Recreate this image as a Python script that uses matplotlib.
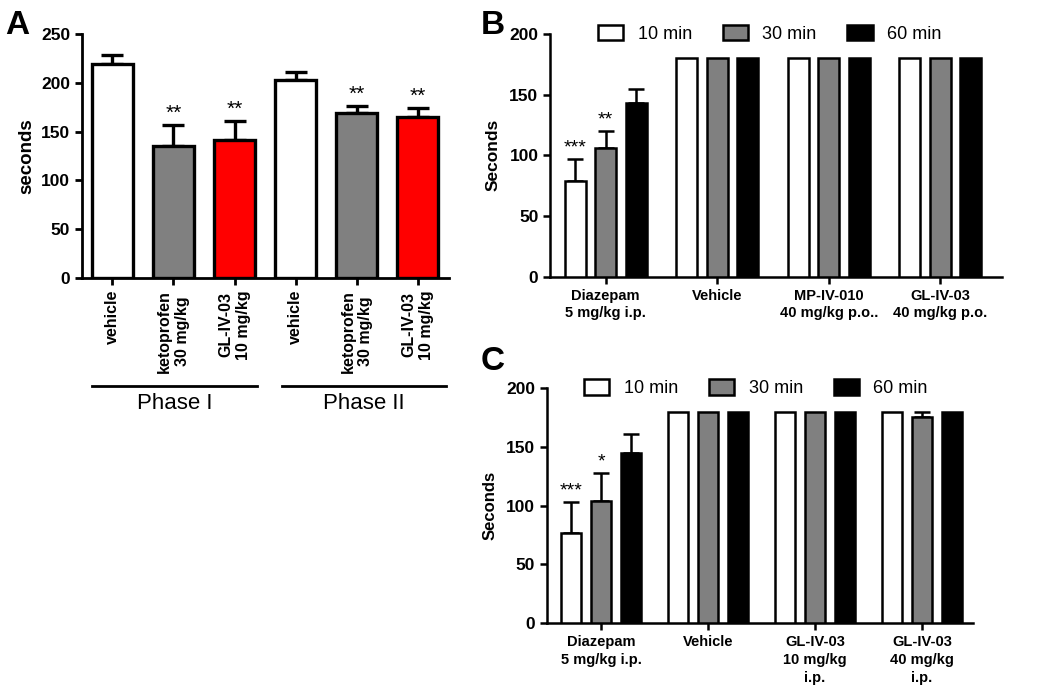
import matplotlib
matplotlib.use("Agg")
import matplotlib.pyplot as plt
import matplotlib.transforms as mtransforms
from matplotlib.patches import Patch
import numpy as np

plt.rcParams['font.family'] = ['Liberation Sans', 'DejaVu Sans']

# ---------------- data ----------------
# Panel A
a_labels = ["vehicle", "ketoprofen\n30 mg/kg", "GL-IV-03\n10 mg/kg",
            "vehicle", "ketoprofen\n30 mg/kg", "GL-IV-03\n10 mg/kg"]
a_values = [219, 135, 141, 203, 169, 165]
a_errors = [9, 22, 20, 8, 7, 9]
a_stars = ["", "**", "**", "", "**", "**"]
a_colors = ["white", "#808080", "#ff0000", "white", "#808080", "#ff0000"]
a_phases = ["Phase I", "Phase II"]

# Panel B
b_groups = ["Diazepam\n5 mg/kg i.p.", "Vehicle", "MP-IV-010\n40 mg/kg p.o..", "GL-IV-03\n40 mg/kg p.o."]
b_10 = [79, 180, 180, 180]
b_30 = [106, 180, 180, 180]
b_60 = [143, 180, 180, 180]
b_err10 = [18, 0, 0, 0]
b_err30 = [14, 0, 0, 0]
b_err60 = [12, 0, 0, 0]
b_star10 = ["***", "", "", ""]
b_star30 = ["**", "", "", ""]

# Panel C
c_groups = ["Diazepam\n5 mg/kg i.p.", "Vehicle", "GL-IV-03\n10 mg/kg\ni.p.", "GL-IV-03\n40 mg/kg\ni.p."]
c_10 = [77, 180, 180, 180]
c_30 = [104, 180, 180, 176]
c_60 = [145, 180, 180, 180]
c_err10 = [26, 0, 0, 0]
c_err30 = [24, 0, 0, 4]
c_err60 = [16, 0, 0, 0]
c_star10 = ["***", "", "", ""]
c_star30 = ["*", "", "", ""]

series_names = ["10 min", "30 min", "60 min"]
series_colors = ["white", "#808080", "black"]

fig = plt.figure(figsize=(10.5, 6.92), dpi=100)


def style_axis(ax, lw):
    ax.spines['top'].set_visible(False)
    ax.spines['right'].set_visible(False)
    ax.spines['left'].set_linewidth(lw)
    ax.spines['bottom'].set_linewidth(lw)
    ax.tick_params(axis='both', direction='out', width=lw, length=5)
    for t in ax.get_yticklabels():
        t.set_fontweight('bold')


# ---------------- Panel A ----------------
axA = fig.add_axes([0.078, 0.598, 0.350, 0.353])
xA = np.arange(len(a_values))
axA.bar(xA, a_values, width=0.67, color=a_colors, edgecolor='black', linewidth=2.4, zorder=3)
axA.errorbar(xA, a_values, yerr=[np.zeros(len(a_errors)), a_errors], fmt='none',
             ecolor='black', elinewidth=2.4, capsize=8, capthick=2.4, zorder=2)
for xi, v, e, s in zip(xA, a_values, a_errors, a_stars):
    if s:
        axA.text(xi, v + e + 2, s, ha='center', va='bottom', fontsize=15)
axA.set_xlim(-0.5, 5.52)
axA.set_ylim(0, 250)
axA.set_yticks([0, 50, 100, 150, 200, 250])
axA.set_xticks(xA)
axA.set_xticklabels(a_labels, rotation=90, fontsize=11.5, fontweight='bold',
                    va='top', ha='center', multialignment='center')
axA.set_ylabel("seconds", fontsize=13.5, fontweight='bold', labelpad=4)
axA.tick_params(axis='y', labelsize=12.5)
style_axis(axA, 2.0)
trA = mtransforms.blended_transform_factory(axA.transData, axA.transAxes)
phase_spans = [(-0.34, 2.37), (2.78, 5.47)]
for (x0, x1), name in zip(phase_spans, a_phases):
    axA.plot([x0, x1], [-0.443, -0.443], transform=trA, color='black', lw=2.0, clip_on=False)
    axA.text((x0 + x1) / 2, -0.468, name, transform=trA, ha='center', va='top', fontsize=16)
fig.text(0.005, 0.985, "A", fontsize=24, fontweight='bold', va='top', ha='left')


def grouped(ax, groups, vals, errs, stars, spacing, width, xlim, lw, capsize, legx):
    xg = np.arange(len(groups))
    offs = [-spacing, 0, spacing]
    for i, (v, e, c, nm) in enumerate(zip(vals, errs, series_colors, series_names)):
        xs = xg + offs[i]
        ax.bar(xs, v, width=width, color=c, edgecolor='black', linewidth=lw, zorder=3, label=nm)
        e = np.array(e)
        m = e > 0
        if m.any():
            ax.errorbar(xs[m], np.array(v)[m], yerr=[np.zeros(m.sum()), e[m]], fmt='none',
                        ecolor='black', elinewidth=lw, capsize=capsize, capthick=lw, zorder=2)
        for xi, vi, ei, s in zip(xs, v, e, stars[i]):
            if s:
                ax.text(xi, vi + ei + 2, s, ha='center', va='bottom', fontsize=14)
    ax.set_xlim(*xlim)
    ax.set_ylim(0, 200)
    ax.set_yticks([0, 50, 100, 150, 200])
    ax.set_xticks(xg)
    ax.set_xticklabels(groups, fontsize=10.5, fontweight='bold', linespacing=1.35)
    ax.tick_params(axis='y', labelsize=12.5)
    style_axis(ax, 1.8)
    handles = [Patch(facecolor=c, edgecolor='black', linewidth=1.8) for c in series_colors]
    ax.legend(handles, series_names, loc='center', bbox_to_anchor=(legx, 1.0), ncol=3,
              frameon=False, fontsize=13, handlelength=1.4, handleheight=0.95,
              columnspacing=1.7, handletextpad=0.8, borderaxespad=0)


# ---------------- Panel B ----------------
axB = fig.add_axes([0.524, 0.600, 0.430, 0.351])
grouped(axB, b_groups, [b_10, b_30, b_60], [b_err10, b_err30, b_err60],
        [b_star10, b_star30, ["", "", "", ""]], 0.273, 0.19, (-0.497, 3.55), 1.8, 5.5, 0.486)
axB.set_ylabel("Seconds", fontsize=12.5, fontweight='bold', labelpad=6)
fig.text(0.458, 0.985, "B", fontsize=24, fontweight='bold', va='top', ha='left')

# ---------------- Panel C ----------------
axC = fig.add_axes([0.521, 0.0997, 0.406, 0.339])
grouped(axC, c_groups, [c_10, c_30, c_60], [c_err10, c_err30, c_err60],
        [c_star10, c_star30, ["", "", "", ""]], 0.28, 0.187, (-0.505, 3.48), 1.8, 5.5, 0.49)
axC.set_ylabel("Seconds", fontsize=12, fontweight='bold', labelpad=6)
fig.text(0.458, 0.50, "C", fontsize=24, fontweight='bold', va='top', ha='left')

fig.savefig("out.png", dpi=100)
